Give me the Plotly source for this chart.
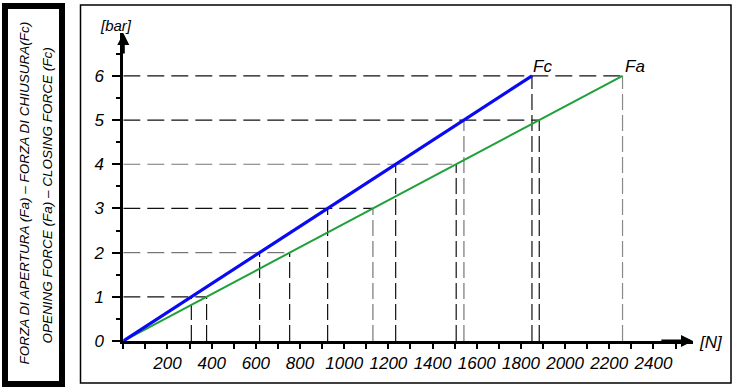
import plotly.graph_objects as go

# ---- data ----
pressure_bar = [0, 1, 2, 3, 4, 5, 6]
fc_N = [0, 308, 617, 925, 1233, 1542, 1850]      # closing force (Fc)
fa_N = [0, 377, 753, 1130, 1507, 1883, 2260]     # opening force (Fa)
x_tick_vals = [200, 400, 600, 800, 1000, 1200, 1400, 1600, 1800, 2000, 2200, 2400]
y_tick_vals = [0, 1, 2, 3, 4, 5, 6]
# colour of the guide lines (as in the scan)
h_guide_colors = ["#111", "#777", "#111", "#777", "#111", "#111"]
fc_guide_colors = ["#111", "#111", "#111", "#111", "#777", "#111"]
fa_guide_colors = ["#111", "#111", "#777", "#111", "#111", "#888"]

W, H = 737, 392
X0, X1 = 123.3, 693.0     # pixel positions of plot area
Y0, Y1 = 341.0, 33.0
XMAX = 2579
YMAX = 6.97

fig = go.Figure()

shapes = []
# horizontal guides: from y axis to the Fa point
for i in range(1, len(pressure_bar)):
    shapes.append(dict(type="line", xref="x", yref="y", x0=0, x1=fa_N[i],
                       y0=pressure_bar[i], y1=pressure_bar[i], layer="below",
                       line=dict(color=h_guide_colors[i - 1], width=1.2, dash="17px,7px")))
# vertical guides: from each point down to the x axis
for i in range(1, len(pressure_bar)):
    shapes.append(dict(type="line", xref="x", yref="y", x0=fc_N[i], x1=fc_N[i],
                       y0=0, y1=pressure_bar[i], layer="below",
                       line=dict(color=fc_guide_colors[i - 1], width=1.2, dash="16px,5px")))
    shapes.append(dict(type="line", xref="x", yref="y", x0=fa_N[i], x1=fa_N[i],
                       y0=0, y1=pressure_bar[i], layer="below",
                       line=dict(color=fa_guide_colors[i - 1], width=1.2, dash="16px,5px")))

# frames
shapes.append(dict(type="rect", xref="paper", yref="paper",
                   x0=5 / W, x1=62 / W, y0=1 - 384 / H, y1=1 - 6 / H,
                   line=dict(color="black", width=6)))
shapes.append(dict(type="rect", xref="paper", yref="paper",
                   x0=80.5 / W, x1=731 / W, y0=1 - 383 / H, y1=1 - 5 / H,
                   line=dict(color="black", width=1.5)))

fig.add_trace(go.Scatter(x=fa_N, y=pressure_bar, mode="lines", name="Fa",
                         line=dict(color="#1fa03a", width=2), cliponaxis=False))
fig.add_trace(go.Scatter(x=fc_N, y=pressure_bar, mode="lines", name="Fc",
                         line=dict(color="#0a0af2", width=3.2), cliponaxis=False))

font_family = "Liberation Sans, Arial, sans-serif"
annotations = [
    # axis arrows
    dict(x=0, y=YMAX, ax=0, ay=YMAX - 0.5, xref="x", yref="y", axref="x", ayref="y",
         showarrow=True, arrowhead=2, arrowsize=0.8, arrowwidth=3, arrowcolor="black", text=""),
    dict(x=XMAX, y=0, ax=XMAX - 150, ay=0, xref="x", yref="y", axref="x", ayref="y",
         showarrow=True, arrowhead=2, arrowsize=0.8, arrowwidth=3, arrowcolor="black", text=""),
    # axis unit labels
    dict(x=116 / W, y=1 - 25 / H, xref="paper", yref="paper", text="<i>[bar]</i>", showarrow=False,
         xanchor="center", yanchor="middle",
         font=dict(size=15, color="black", family=font_family)),
    dict(x=697 / W, y=1 - 342 / H, xref="paper", yref="paper", text="<i>[N]</i>", showarrow=False,
         xanchor="left", yanchor="middle", font=dict(size=17, color="black", family=font_family)),
    # end labels
    dict(x=fc_N[-1], y=pressure_bar[-1], xref="x", yref="y", text="<i>Fc</i>", showarrow=False,
         xanchor="left", yanchor="bottom", xshift=-1, yshift=-2,
         font=dict(size=17, color="black", family=font_family)),
    dict(x=fa_N[-1], y=pressure_bar[-1], xref="x", yref="y", text="<i>Fa</i>", showarrow=False,
         xanchor="left", yanchor="bottom", xshift=0, yshift=-2,
         font=dict(size=17, color="black", family=font_family)),
    # rotated side titles
    dict(x=23.5 / W, y=1 - 193 / H, xref="paper", yref="paper", textangle=-90, showarrow=False,
         xanchor="center", yanchor="middle",
         text="<i>FORZA DI APERTURA (Fa) – FORZA DI CHIUSURA(Fc)</i>",
         font=dict(size=13.5, color="black", family=font_family)),
    dict(x=46.5 / W, y=1 - 196 / H, xref="paper", yref="paper", textangle=-90, showarrow=False,
         xanchor="center", yanchor="middle",
         text="<i>OPENING FORCE (Fa) – CLOSING FORCE (Fc)</i>",
         font=dict(size=13.5, color="black", family=font_family)),
]

fig.update_layout(
    width=W, height=H,
    margin=dict(l=0, r=0, t=0, b=0),
    paper_bgcolor="white", plot_bgcolor="white",
    showlegend=False,
    template="none",
    shapes=shapes,
    annotations=annotations,
    xaxis=dict(domain=[X0 / W, X1 / W], range=[0, XMAX], automargin=False,
               showgrid=False, zeroline=False, showline=True, linecolor="black", linewidth=3,
               tickmode="array", tickvals=x_tick_vals,
               ticktext=["<i>%d</i>" % v for v in x_tick_vals],
               ticks="outside", ticklen=5, tickwidth=2, tickcolor="black",
               minor=dict(tickmode="linear", tick0=0, dtick=100, ticks="outside",
                          ticklen=5, tickwidth=2, tickcolor="black", showgrid=False),
               tickfont=dict(size=17, color="black", family=font_family)),
    yaxis=dict(domain=[1 - Y0 / H, 1 - Y1 / H], range=[0, YMAX], automargin=False,
               showgrid=False, zeroline=False, showline=True, linecolor="black", linewidth=3,
               tickmode="array", tickvals=y_tick_vals,
               ticktext=["<i>%d</i>" % v for v in y_tick_vals],
               ticks="outside", ticklen=8, tickwidth=2, tickcolor="black",
               ticklabelstandoff=5,
               minor=dict(tickmode="linear", tick0=0, dtick=0.5, ticks="outside",
                          ticklen=4, tickwidth=2, tickcolor="black", showgrid=False),
               tickfont=dict(size=17, color="black", family=font_family)),
)

fig.write_html("out.html", config={"displayModeBar": False},
               post_script="document.body.style.margin='0';document.body.style.overflow='hidden';")
